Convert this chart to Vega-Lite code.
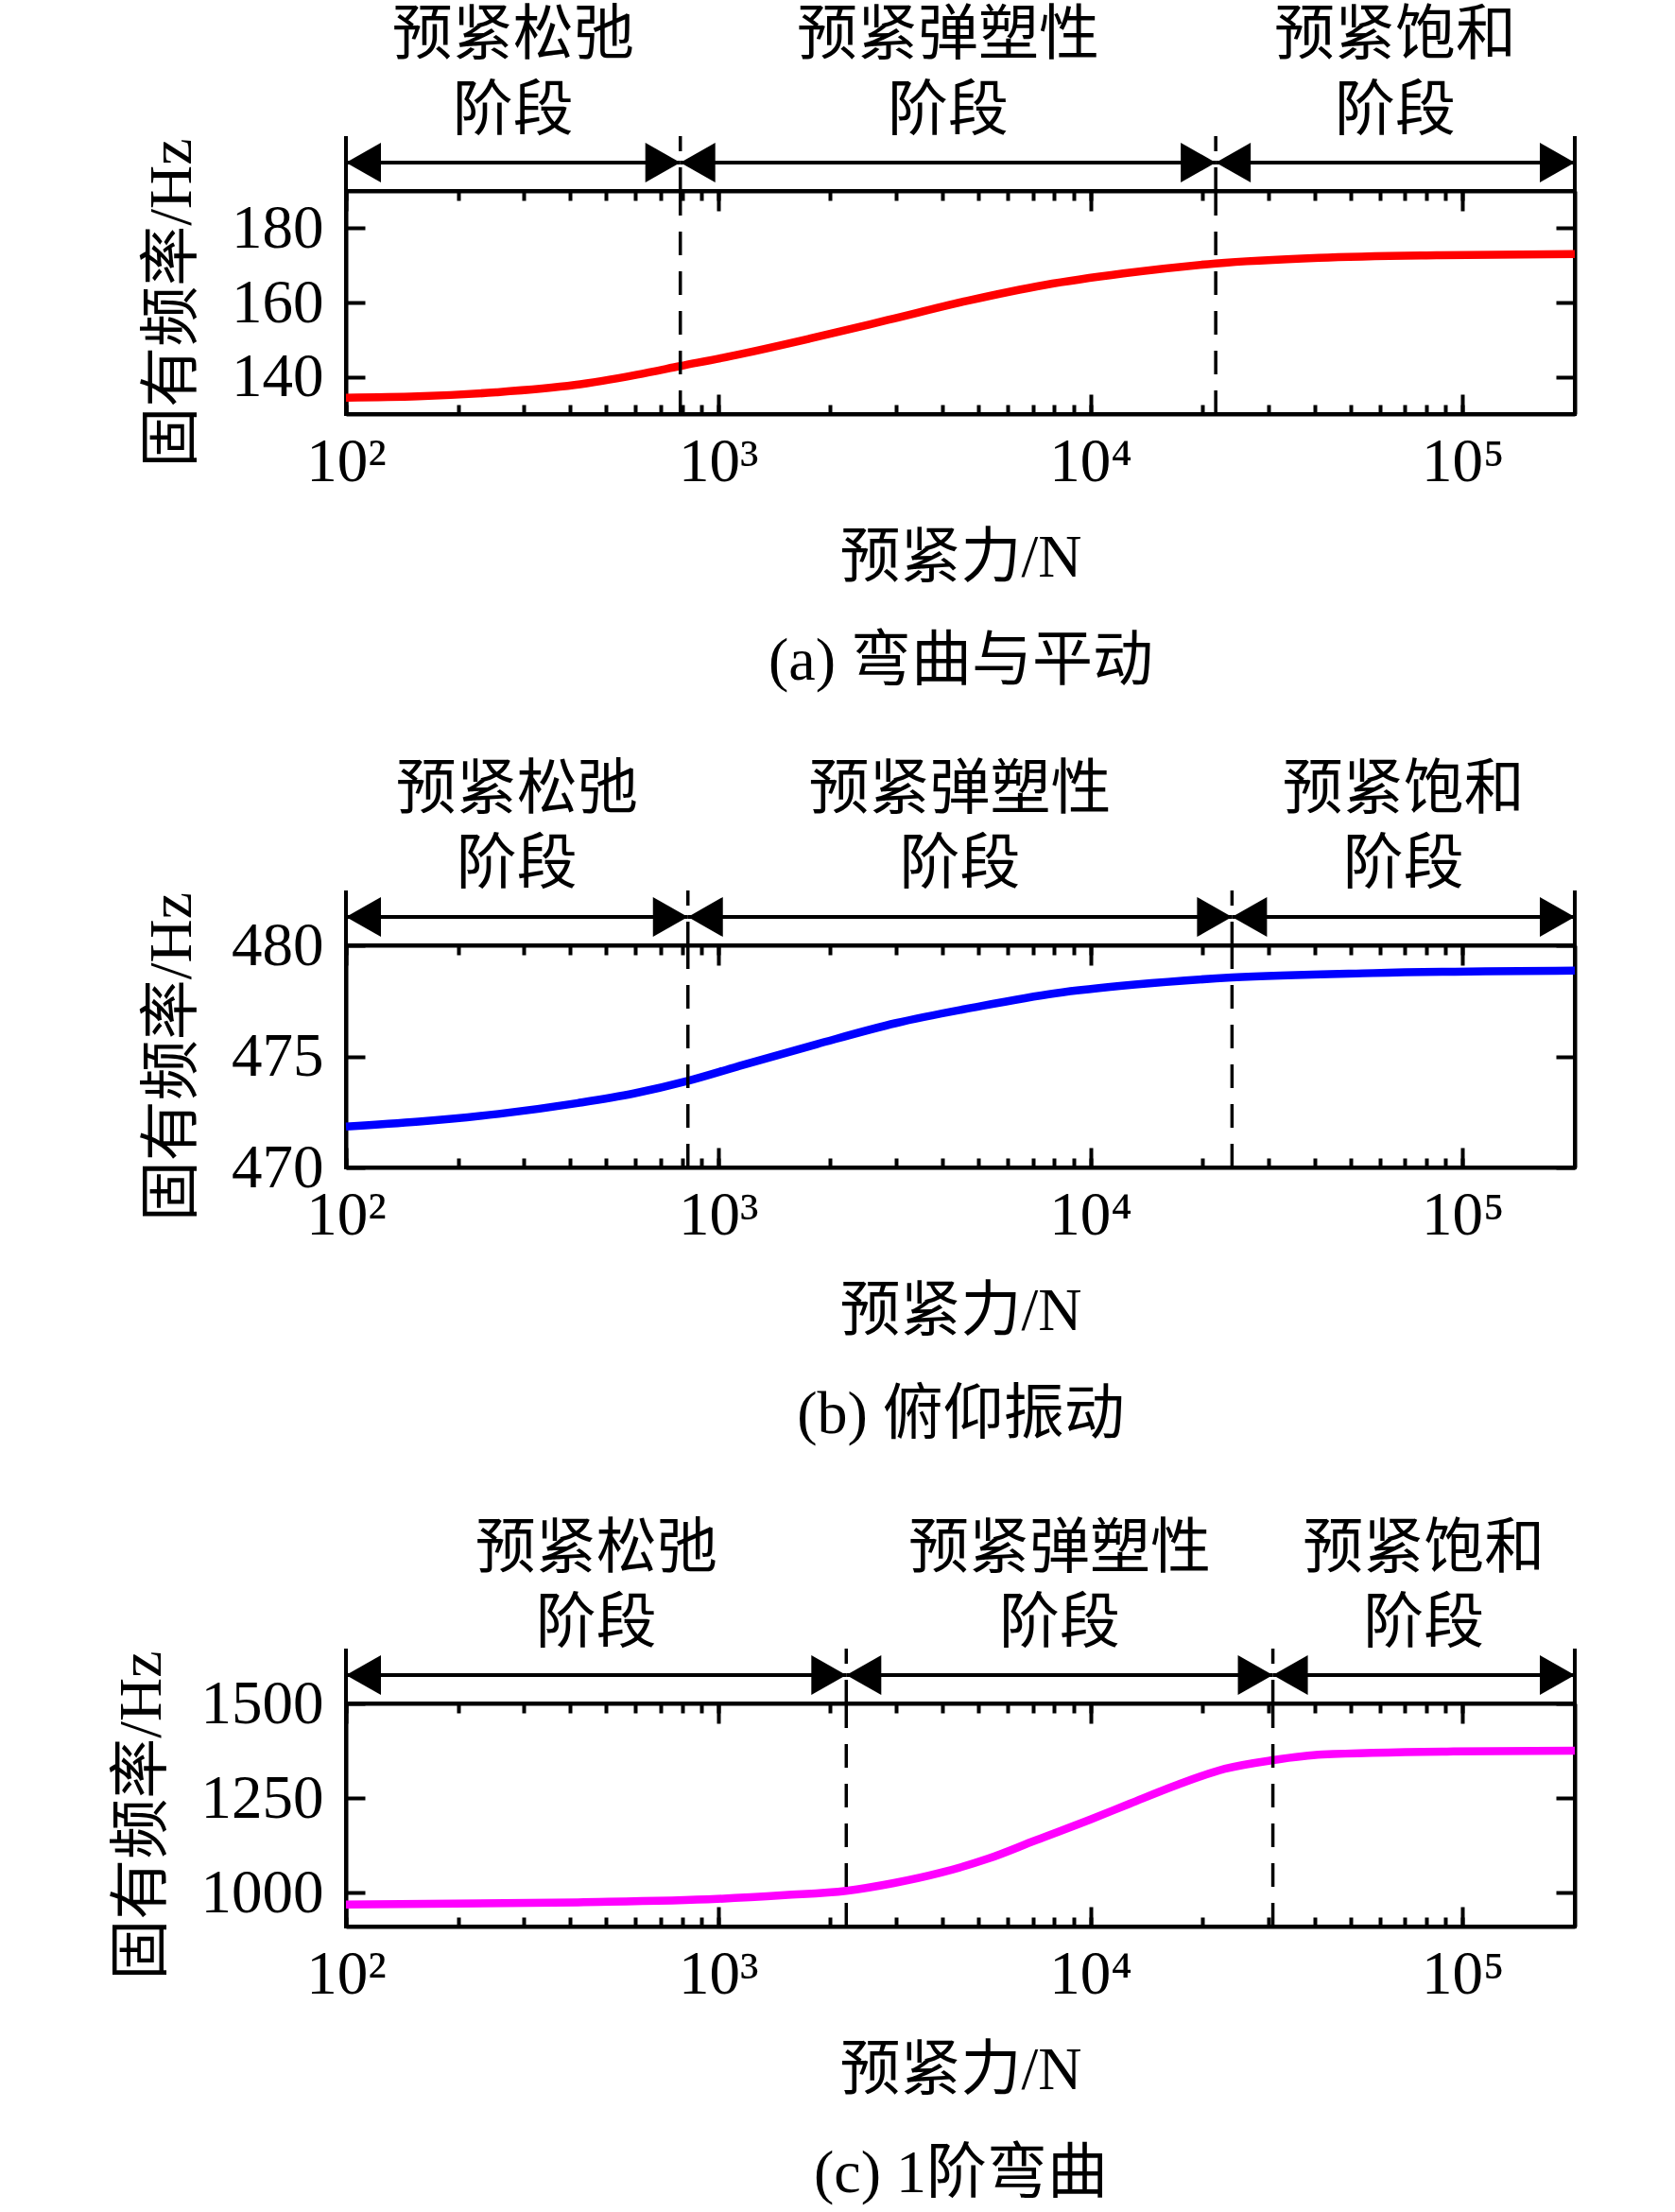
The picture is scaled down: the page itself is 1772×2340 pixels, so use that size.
{
  "$schema": "https://vega.github.io/schema/vega-lite/v6.json",
  "background": "white",
  "padding": {"left": 116, "top": 0, "right": 0, "bottom": 0},
  "spacing": 0,
  "bounds": "flush",
  "datasets": {
    "curveA": [
      {"F": 100, "f": 134.4}, {"F": 156, "f": 134.75}, {"F": 253, "f": 135.85}, {"F": 411, "f": 137.8},
      {"F": 605, "f": 140.6}, {"F": 791, "f": 142.9}, {"F": 1084, "f": 145.6}, {"F": 1762, "f": 150.3},
      {"F": 2858, "f": 155.3}, {"F": 4645, "f": 160.4}, {"F": 7534, "f": 164.7}, {"F": 12250, "f": 167.8},
      {"F": 21700, "f": 170.5}, {"F": 41100, "f": 172.0}, {"F": 85100, "f": 172.7}, {"F": 200000, "f": 173.0}
    ],
    "stagesA": [
      {"s": 100, "e": 791, "l1": "预紧松弛", "l2": "阶段"},
      {"s": 791, "e": 21700, "l1": "预紧弹塑性", "l2": "阶段"},
      {"s": 21700, "e": 200000, "l1": "预紧饱和", "l2": "阶段"}
    ],
    "curveB": [
      {"F": 100, "f": 471.84}, {"F": 157, "f": 472.06}, {"F": 257, "f": 472.41}, {"F": 420, "f": 472.9},
      {"F": 593, "f": 473.33}, {"F": 829, "f": 473.9}, {"F": 1125, "f": 474.54}, {"F": 1841, "f": 475.55},
      {"F": 3006, "f": 476.5}, {"F": 4920, "f": 477.22}, {"F": 8054, "f": 477.84}, {"F": 13180, "f": 478.23},
      {"F": 24000, "f": 478.55}, {"F": 57500, "f": 478.75}, {"F": 200000, "f": 478.86}
    ],
    "stagesB": [
      {"s": 100, "e": 829, "l1": "预紧松弛", "l2": "阶段"},
      {"s": 829, "e": 24000, "l1": "预紧弹塑性", "l2": "阶段"},
      {"s": 24000, "e": 200000, "l1": "预紧饱和", "l2": "阶段"}
    ],
    "curveC": [
      {"F": 100, "f": 968}, {"F": 420, "f": 974}, {"F": 995, "f": 983}, {"F": 1510, "f": 993},
      {"F": 2208, "f": 1004.5}, {"F": 2965, "f": 1025}, {"F": 3972, "f": 1052.7}, {"F": 5321, "f": 1089.8},
      {"F": 7129, "f": 1138}, {"F": 10000, "f": 1193}, {"F": 12760, "f": 1235}, {"F": 17140, "f": 1285},
      {"F": 22960, "f": 1327}, {"F": 30900, "f": 1350}, {"F": 41980, "f": 1365}, {"F": 94400, "f": 1373},
      {"F": 200000, "f": 1375}
    ],
    "stagesC": [
      {"s": 100, "e": 2208, "l1": "预紧松弛", "l2": "阶段"},
      {"s": 2208, "e": 30900, "l1": "预紧弹塑性", "l2": "阶段"},
      {"s": 30900, "e": 200000, "l1": "预紧饱和", "l2": "阶段"}
    ]
  },
  "vconcat": [
    {
      "width": 1300, "height": 202, "view": {"stroke": null},
      "data": {"name": "stagesA"},
      "layer": [
        {"mark": {"type": "rule", "strokeWidth": 4, "color": "black"},
         "encoding": {"x": {"datum": 100, "type": "quantitative", "scale": {"type": "log", "domain": [100, 200000], "nice": false}, "axis": null},
                      "y": {"datum": 0, "type": "quantitative", "scale": {"domain": [0, 202], "nice": false, "zero": false}, "axis": null}, "y2": {"datum": 58}}},
        {"mark": {"type": "rule", "strokeWidth": 4, "color": "black"},
         "encoding": {"x": {"datum": 200000, "type": "quantitative"}, "y": {"datum": 0, "type": "quantitative"}, "y2": {"datum": 58}}},
        {"transform": [{"filter": "datum.e < 200000"}],
         "mark": {"type": "rule", "strokeWidth": 3.5, "color": "black", "strokeDash": [25, 17]},
         "encoding": {"x": {"field": "e", "type": "quantitative"}, "y": {"datum": 0, "type": "quantitative"}, "y2": {"datum": 58}}},
        {"mark": {"type": "rule", "strokeWidth": 4, "color": "black"},
         "encoding": {"x": {"field": "s", "type": "quantitative"}, "x2": {"field": "e"}, "y": {"datum": 30, "type": "quantitative"}}},
        {"mark": {"type": "point", "shape": "M0,0L-2,-1.14L-2,1.14Z", "filled": true, "size": 1369, "color": "black", "opacity": 1},
         "encoding": {"x": {"field": "e", "type": "quantitative"}, "y": {"datum": 30, "type": "quantitative"}}},
        {"mark": {"type": "point", "shape": "M0,0L2,-1.14L2,1.14Z", "filled": true, "size": 1369, "color": "black", "opacity": 1},
         "encoding": {"x": {"field": "s", "type": "quantitative"}, "y": {"datum": 30, "type": "quantitative"}}},
        {"transform": [{"calculate": "sqrt(datum.s * datum.e)", "as": "m"}],
         "mark": {"type": "text", "align": "center", "baseline": "middle"},
         "encoding": {"x": {"field": "m", "type": "quantitative"}, "y": {"datum": 164, "type": "quantitative"}, "text": {"field": "l1"}}},
        {"transform": [{"calculate": "sqrt(datum.s * datum.e)", "as": "m"}],
         "mark": {"type": "text", "align": "center", "baseline": "middle"},
         "encoding": {"x": {"field": "m", "type": "quantitative"}, "y": {"datum": 84, "type": "quantitative"}, "text": {"field": "l2"}}}
      ]
    },
    {
      "width": 1300, "height": 236,
      "layer": [
        {"data": {"name": "curveA"},
         "mark": {"type": "line", "color": "#ff0000", "strokeWidth": 8.5, "interpolate": "monotone"},
         "encoding": {
           "x": {"field": "F", "type": "quantitative", "scale": {"type": "log", "domain": [100, 200000], "nice": false},
                 "axis": {"orient": "bottom", "values": [100, 200, 300, 400, 500, 600, 700, 800, 900, 1000, 2000, 3000, 4000, 5000, 6000, 7000, 8000, 9000, 10000, 20000, 30000, 40000, 50000, 60000, 70000, 80000, 90000, 100000],
                          "labelExpr": "datum.value == 100 ? '10²' : datum.value == 1000 ? '10³' : datum.value == 10000 ? '10⁴' : datum.value == 100000 ? '10⁵' : ''",
                          "labelFlush": false, "labelOverlap": false, "labelPadding": 29, "tickSize": -10,
                          "title": ["预紧力/N", "(a) 弯曲与平动"], "titleLineHeight": 109, "titlePadding": 37}},
           "y": {"field": "f", "type": "quantitative", "scale": {"domain": [130, 190], "nice": false, "zero": false},
                 "axis": {"orient": "left", "values": [140, 160, 180], "format": "d", "title": "固有频率/Hz", "titlePadding": 30, "labelPadding": 44, "tickSize": -20}}
         }},
        {"data": {"name": "stagesA"}, "transform": [{"filter": "datum.e < 200000"}],
         "mark": {"type": "rule", "strokeWidth": 3.5, "color": "black", "strokeDash": [25, 17]},
         "encoding": {
           "x": {"field": "e", "type": "quantitative", "scale": {"type": "log", "domain": [100, 200000], "nice": false},
                 "axis": {"orient": "top", "values": [100, 200, 300, 400, 500, 600, 700, 800, 900, 1000, 2000, 3000, 4000, 5000, 6000, 7000, 8000, 9000, 10000, 20000, 30000, 40000, 50000, 60000, 70000, 80000, 90000, 100000],
                          "labels": false, "title": null, "tickSize": -10}},
           "y": {"datum": 130, "type": "quantitative", "scale": {"domain": [130, 190], "nice": false, "zero": false},
                 "axis": {"orient": "right", "values": [140, 160, 180], "labels": false, "title": null, "tickSize": -20}},
           "y2": {"datum": 190}
         }},
        {"data": {"name": "stagesA"},
         "mark": {"type": "rule", "opacity": 0},
         "encoding": {
           "x": {"field": "e", "type": "quantitative", "scale": {"type": "log", "domain": [100, 200000], "nice": false},
                 "axis": {"orient": "bottom", "values": [100, 1000, 10000, 100000], "labels": false, "domain": false, "title": null, "tickSize": -21}},
           "y": {"datum": 130, "type": "quantitative", "axis": null}, "y2": {"datum": 190}
         }},
        {"data": {"name": "stagesA"},
         "mark": {"type": "rule", "opacity": 0},
         "encoding": {
           "x": {"field": "e", "type": "quantitative", "scale": {"type": "log", "domain": [100, 200000], "nice": false},
                 "axis": {"orient": "top", "values": [100, 1000, 10000, 100000], "labels": false, "domain": false, "title": null, "tickSize": -21}},
           "y": {"datum": 130, "type": "quantitative", "axis": null}, "y2": {"datum": 190}
         }}
      ],
      "resolve": {"axis": {"x": "independent", "y": "independent"}}
    },
    {
      "width": 1300, "height": 562, "view": {"stroke": null},
      "data": {"name": "stagesB"},
      "layer": [
        {"mark": {"type": "rule", "strokeWidth": 4, "color": "black"},
         "encoding": {"x": {"datum": 100, "type": "quantitative", "scale": {"type": "log", "domain": [100, 200000], "nice": false}, "axis": null},
                      "y": {"datum": 0, "type": "quantitative", "scale": {"domain": [0, 562], "nice": false, "zero": false}, "axis": null}, "y2": {"datum": 58}}},
        {"mark": {"type": "rule", "strokeWidth": 4, "color": "black"},
         "encoding": {"x": {"datum": 200000, "type": "quantitative"}, "y": {"datum": 0, "type": "quantitative"}, "y2": {"datum": 58}}},
        {"transform": [{"filter": "datum.e < 200000"}],
         "mark": {"type": "rule", "strokeWidth": 3.5, "color": "black", "strokeDash": [25, 17]},
         "encoding": {"x": {"field": "e", "type": "quantitative"}, "y": {"datum": 0, "type": "quantitative"}, "y2": {"datum": 58}}},
        {"mark": {"type": "rule", "strokeWidth": 4, "color": "black"},
         "encoding": {"x": {"field": "s", "type": "quantitative"}, "x2": {"field": "e"}, "y": {"datum": 30, "type": "quantitative"}}},
        {"mark": {"type": "point", "shape": "M0,0L-2,-1.14L-2,1.14Z", "filled": true, "size": 1369, "color": "black", "opacity": 1},
         "encoding": {"x": {"field": "e", "type": "quantitative"}, "y": {"datum": 30, "type": "quantitative"}}},
        {"mark": {"type": "point", "shape": "M0,0L2,-1.14L2,1.14Z", "filled": true, "size": 1369, "color": "black", "opacity": 1},
         "encoding": {"x": {"field": "s", "type": "quantitative"}, "y": {"datum": 30, "type": "quantitative"}}},
        {"transform": [{"calculate": "sqrt(datum.s * datum.e)", "as": "m"}],
         "mark": {"type": "text", "align": "center", "baseline": "middle"},
         "encoding": {"x": {"field": "m", "type": "quantitative"}, "y": {"datum": 164, "type": "quantitative"}, "text": {"field": "l1"}}},
        {"transform": [{"calculate": "sqrt(datum.s * datum.e)", "as": "m"}],
         "mark": {"type": "text", "align": "center", "baseline": "middle"},
         "encoding": {"x": {"field": "m", "type": "quantitative"}, "y": {"datum": 85, "type": "quantitative"}, "text": {"field": "l2"}}}
      ]
    },
    {
      "width": 1300, "height": 235,
      "layer": [
        {"data": {"name": "curveB"},
         "mark": {"type": "line", "color": "#0000ff", "strokeWidth": 8.5, "interpolate": "monotone"},
         "encoding": {
           "x": {"field": "F", "type": "quantitative", "scale": {"type": "log", "domain": [100, 200000], "nice": false},
                 "axis": {"orient": "bottom", "values": [100, 200, 300, 400, 500, 600, 700, 800, 900, 1000, 2000, 3000, 4000, 5000, 6000, 7000, 8000, 9000, 10000, 20000, 30000, 40000, 50000, 60000, 70000, 80000, 90000, 100000],
                          "labelExpr": "datum.value == 100 ? '10²' : datum.value == 1000 ? '10³' : datum.value == 10000 ? '10⁴' : datum.value == 100000 ? '10⁵' : ''",
                          "labelFlush": false, "labelOverlap": false, "labelPadding": 29, "tickSize": -10,
                          "title": ["预紧力/N", "(b) 俯仰振动"], "titleLineHeight": 109, "titlePadding": 37}},
           "y": {"field": "f", "type": "quantitative", "scale": {"domain": [470, 480], "nice": false, "zero": false},
                 "axis": {"orient": "left", "values": [470, 475, 480], "format": "d", "title": "固有频率/Hz", "titlePadding": 30, "labelPadding": 44, "tickSize": -20}}
         }},
        {"data": {"name": "stagesB"}, "transform": [{"filter": "datum.e < 200000"}],
         "mark": {"type": "rule", "strokeWidth": 3.5, "color": "black", "strokeDash": [25, 17]},
         "encoding": {
           "x": {"field": "e", "type": "quantitative", "scale": {"type": "log", "domain": [100, 200000], "nice": false},
                 "axis": {"orient": "top", "values": [100, 200, 300, 400, 500, 600, 700, 800, 900, 1000, 2000, 3000, 4000, 5000, 6000, 7000, 8000, 9000, 10000, 20000, 30000, 40000, 50000, 60000, 70000, 80000, 90000, 100000],
                          "labels": false, "title": null, "tickSize": -10}},
           "y": {"datum": 470, "type": "quantitative", "scale": {"domain": [470, 480], "nice": false, "zero": false},
                 "axis": {"orient": "right", "values": [470, 475, 480], "labels": false, "title": null, "tickSize": -20}},
           "y2": {"datum": 480}
         }},
        {"data": {"name": "stagesB"},
         "mark": {"type": "rule", "opacity": 0},
         "encoding": {
           "x": {"field": "e", "type": "quantitative", "scale": {"type": "log", "domain": [100, 200000], "nice": false},
                 "axis": {"orient": "bottom", "values": [100, 1000, 10000, 100000], "labels": false, "domain": false, "title": null, "tickSize": -21}},
           "y": {"datum": 470, "type": "quantitative", "axis": null}, "y2": {"datum": 480}
         }},
        {"data": {"name": "stagesB"},
         "mark": {"type": "rule", "opacity": 0},
         "encoding": {
           "x": {"field": "e", "type": "quantitative", "scale": {"type": "log", "domain": [100, 200000], "nice": false},
                 "axis": {"orient": "top", "values": [100, 1000, 10000, 100000], "labels": false, "domain": false, "title": null, "tickSize": -21}},
           "y": {"datum": 470, "type": "quantitative", "axis": null}, "y2": {"datum": 480}
         }}
      ],
      "resolve": {"axis": {"x": "independent", "y": "independent"}}
    },
    {
      "width": 1300, "height": 567, "view": {"stroke": null},
      "data": {"name": "stagesC"},
      "layer": [
        {"mark": {"type": "rule", "strokeWidth": 4, "color": "black"},
         "encoding": {"x": {"datum": 100, "type": "quantitative", "scale": {"type": "log", "domain": [100, 200000], "nice": false}, "axis": null},
                      "y": {"datum": 0, "type": "quantitative", "scale": {"domain": [0, 567], "nice": false, "zero": false}, "axis": null}, "y2": {"datum": 58}}},
        {"mark": {"type": "rule", "strokeWidth": 4, "color": "black"},
         "encoding": {"x": {"datum": 200000, "type": "quantitative"}, "y": {"datum": 0, "type": "quantitative"}, "y2": {"datum": 58}}},
        {"transform": [{"filter": "datum.e < 200000"}],
         "mark": {"type": "rule", "strokeWidth": 3.5, "color": "black", "strokeDash": [25, 17]},
         "encoding": {"x": {"field": "e", "type": "quantitative"}, "y": {"datum": 0, "type": "quantitative"}, "y2": {"datum": 58}}},
        {"mark": {"type": "rule", "strokeWidth": 4, "color": "black"},
         "encoding": {"x": {"field": "s", "type": "quantitative"}, "x2": {"field": "e"}, "y": {"datum": 30, "type": "quantitative"}}},
        {"mark": {"type": "point", "shape": "M0,0L-2,-1.14L-2,1.14Z", "filled": true, "size": 1369, "color": "black", "opacity": 1},
         "encoding": {"x": {"field": "e", "type": "quantitative"}, "y": {"datum": 30, "type": "quantitative"}}},
        {"mark": {"type": "point", "shape": "M0,0L2,-1.14L2,1.14Z", "filled": true, "size": 1369, "color": "black", "opacity": 1},
         "encoding": {"x": {"field": "s", "type": "quantitative"}, "y": {"datum": 30, "type": "quantitative"}}},
        {"transform": [{"calculate": "sqrt(datum.s * datum.e)", "as": "m"}],
         "mark": {"type": "text", "align": "center", "baseline": "middle"},
         "encoding": {"x": {"field": "m", "type": "quantitative"}, "y": {"datum": 163, "type": "quantitative"}, "text": {"field": "l1"}}},
        {"transform": [{"calculate": "sqrt(datum.s * datum.e)", "as": "m"}],
         "mark": {"type": "text", "align": "center", "baseline": "middle"},
         "encoding": {"x": {"field": "m", "type": "quantitative"}, "y": {"datum": 84, "type": "quantitative"}, "text": {"field": "l2"}}}
      ]
    },
    {
      "width": 1300, "height": 236,
      "layer": [
        {"data": {"name": "curveC"},
         "mark": {"type": "line", "color": "#ff00ff", "strokeWidth": 8.5, "interpolate": "monotone"},
         "encoding": {
           "x": {"field": "F", "type": "quantitative", "scale": {"type": "log", "domain": [100, 200000], "nice": false},
                 "axis": {"orient": "bottom", "values": [100, 200, 300, 400, 500, 600, 700, 800, 900, 1000, 2000, 3000, 4000, 5000, 6000, 7000, 8000, 9000, 10000, 20000, 30000, 40000, 50000, 60000, 70000, 80000, 90000, 100000],
                          "labelExpr": "datum.value == 100 ? '10²' : datum.value == 1000 ? '10³' : datum.value == 10000 ? '10⁴' : datum.value == 100000 ? '10⁵' : ''",
                          "labelFlush": false, "labelOverlap": false, "labelPadding": 29, "tickSize": -10,
                          "title": ["预紧力/N", "(c) 1阶弯曲"], "titleLineHeight": 109, "titlePadding": 37}},
           "y": {"field": "f", "type": "quantitative", "scale": {"domain": [910, 1500], "nice": false, "zero": false},
                 "axis": {"orient": "left", "values": [1000, 1250, 1500], "format": "d", "title": "固有频率/Hz", "titlePadding": 30, "labelPadding": 44, "tickSize": -20}}
         }},
        {"data": {"name": "stagesC"}, "transform": [{"filter": "datum.e < 200000"}],
         "mark": {"type": "rule", "strokeWidth": 3.5, "color": "black", "strokeDash": [25, 17]},
         "encoding": {
           "x": {"field": "e", "type": "quantitative", "scale": {"type": "log", "domain": [100, 200000], "nice": false},
                 "axis": {"orient": "top", "values": [100, 200, 300, 400, 500, 600, 700, 800, 900, 1000, 2000, 3000, 4000, 5000, 6000, 7000, 8000, 9000, 10000, 20000, 30000, 40000, 50000, 60000, 70000, 80000, 90000, 100000],
                          "labels": false, "title": null, "tickSize": -10}},
           "y": {"datum": 910, "type": "quantitative", "scale": {"domain": [910, 1500], "nice": false, "zero": false},
                 "axis": {"orient": "right", "values": [1000, 1250, 1500], "labels": false, "title": null, "tickSize": -20}},
           "y2": {"datum": 1500}
         }},
        {"data": {"name": "stagesC"},
         "mark": {"type": "rule", "opacity": 0},
         "encoding": {
           "x": {"field": "e", "type": "quantitative", "scale": {"type": "log", "domain": [100, 200000], "nice": false},
                 "axis": {"orient": "bottom", "values": [100, 1000, 10000, 100000], "labels": false, "domain": false, "title": null, "tickSize": -21}},
           "y": {"datum": 910, "type": "quantitative", "axis": null}, "y2": {"datum": 1500}
         }},
        {"data": {"name": "stagesC"},
         "mark": {"type": "rule", "opacity": 0},
         "encoding": {
           "x": {"field": "e", "type": "quantitative", "scale": {"type": "log", "domain": [100, 200000], "nice": false},
                 "axis": {"orient": "top", "values": [100, 1000, 10000, 100000], "labels": false, "domain": false, "title": null, "tickSize": -21}},
           "y": {"datum": 910, "type": "quantitative", "axis": null}, "y2": {"datum": 1500}
         }}
      ],
      "resolve": {"axis": {"x": "independent", "y": "independent"}}
    }
  ],
  "resolve": {"scale": {"x": "independent", "y": "independent"}},
  "config": {
    "view": {"stroke": "black", "strokeWidth": 4},
    "axis": {
      "grid": false, "domainColor": "black", "domainWidth": 4, "tickColor": "black", "tickWidth": 4,
      "zindex": 1,
      "labelFont": "Liberation Serif, DejaVu Serif, Noto Sans CJK SC", "labelFontSize": 65, "labelColor": "black",
      "titleFont": "Liberation Serif, Noto Sans CJK SC", "titleFontSize": 64, "titleFontWeight": "normal", "titleColor": "black"
    },
    "text": {"font": "Liberation Serif, Noto Sans CJK SC", "fontSize": 64, "color": "black"}
  }
}
